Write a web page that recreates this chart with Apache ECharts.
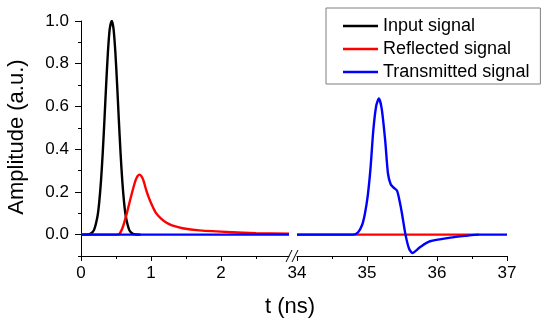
<!DOCTYPE html>
<html>
<head>
<meta charset="utf-8">
<script src="https://cdn.jsdelivr.net/npm/echarts@6/dist/echarts.min.js"></script>
<style>html,body{margin:0;padding:0;background:#fff}#c{width:550px;height:328px}</style>
</head>
<body>
<div id="c"></div>
<script>
// ---- data ----
var seriesNames = ['Input signal', 'Reflected signal', 'Transmitted signal'];
var seriesColors = ['#000000', '#ff0000', '#0000ff'];

var inputTime = [0, 0.085, 0.135, 0.185, 0.235, 0.26, 0.285, 0.31, 0.335, 0.36, 0.385, 0.41, 0.44, 0.465, 0.49, 0.515, 0.54, 0.565, 0.59, 0.615, 0.64, 0.69, 0.74, 0.79, 0.85];
var inputAmp  = [0, 0.0005, 0.004, 0.021, 0.085, 0.151, 0.249, 0.381, 0.539, 0.707, 0.857, 0.962, 1.0, 0.962, 0.857, 0.707, 0.539, 0.381, 0.249, 0.151, 0.085, 0.021, 0.004, 0.0005, 0];

var reflectedTime = [0, 0.5, 0.55, 0.6, 0.65, 0.7, 0.74, 0.78, 0.81, 0.835, 0.86, 0.89, 0.93, 0.97, 1.0, 1.07, 1.14, 1.21, 1.3, 1.45, 1.69, 2.16, 2.5, 2.97];
var reflectedAmp  = [0, 0, 0.004, 0.038, 0.095, 0.16, 0.21, 0.255, 0.275, 0.281, 0.275, 0.255, 0.21, 0.172, 0.148, 0.102, 0.076, 0.058, 0.043, 0.03, 0.02, 0.011, 0.007, 0.004];
var reflectedTimeRight = [34, 36.6];
var reflectedAmpRight  = [0, 0];

var transmittedTime = [0, 2.97];
var transmittedAmp  = [0, 0];
var transmittedTimeRight = [34, 34.8, 34.87, 34.93, 34.97, 35.01, 35.05, 35.09, 35.13, 35.17, 35.21, 35.26, 35.3, 35.34, 35.38, 35.43, 35.47, 35.5, 35.55, 35.6, 35.65, 35.7, 35.76, 35.9, 36.19, 36.4, 36.6, 37];
var transmittedAmpRight  = [0, 0, 0.01, 0.045, 0.098, 0.18, 0.31, 0.488, 0.6, 0.637, 0.59, 0.44, 0.285, 0.235, 0.22, 0.205, 0.15, 0.098, 0, -0.065, -0.086, -0.075, -0.058, -0.031, -0.014, -0.006, 0, 0];

var yMajorTicks = [0, 0.2, 0.4, 0.6, 0.8, 1.0];
var yMinorTicks = [-0.1, 0.1, 0.3, 0.5, 0.7, 0.9];
var xLeftMajor = [0, 1, 2];
var xLeftMinor = [0.5, 1.5, 2.5];
var xRightMajor = [34, 35, 36, 37];
var xRightMinor = [34.5, 35.5, 36.5];

function zip(a, b) { return a.map(function (v, i) { return [v, b[i]]; }); }

var FONT = 'Liberation Sans, Arial, sans-serif';
var LW = 2.4;
var gridTop = 21, gridH = 235;
var leftGrid = {left: 81, top: gridTop, width: 208, height: gridH};
var rightGrid = {left: 297, top: gridTop, width: 210, height: gridH};

function xAxisBase(grid, min, max, major, showLine) {
  return {
    type: 'value', gridIndex: grid, min: min, max: max, interval: 1,
    axisLine: {show: showLine, onZero: false, lineStyle: {color: '#000', width: 1}},
    splitLine: {show: false},
    axisTick: {show: true, customValues: major, length: 5, lineStyle: {color: '#000'}},
    axisLabel: {show: true, customValues: major, margin: 9, fontSize: 17, fontFamily: FONT, color: '#000'}
  };
}
function xAxisMinor(grid, min, max, minor) {
  return {
    type: 'value', gridIndex: grid, min: min, max: max, interval: 0.5,
    axisLine: {show: false, onZero: false},
    splitLine: {show: false},
    axisTick: {show: true, customValues: minor, length: 3, lineStyle: {color: '#000'}},
    axisLabel: {show: false}
  };
}
function lineSeries(nameIdx, xi, data, smooth) {
  return {
    name: seriesNames[nameIdx], type: 'line', xAxisIndex: xi, yAxisIndex: xi, data: data,
    symbol: 'none', showSymbol: false, smooth: smooth,
    lineStyle: {color: seriesColors[nameIdx], width: LW}, itemStyle: {color: seriesColors[nameIdx]}
  };
}

var option = {
  animation: false,
  backgroundColor: '#fff',
  grid: [
    Object.assign({}, leftGrid),
    Object.assign({}, rightGrid),
    Object.assign({}, leftGrid),
    Object.assign({}, rightGrid)
  ],
  xAxis: [
    xAxisBase(0, 0, 2.97, xLeftMajor, true),
    xAxisBase(1, 34, 37, xRightMajor, true),
    xAxisMinor(2, 0, 2.97, xLeftMinor),
    xAxisMinor(3, 34, 37, xRightMinor)
  ],
  yAxis: [
    {
      type: 'value', gridIndex: 0, min: -0.1, max: 1.0, interval: 0.1,
      axisLine: {show: true, onZero: false, lineStyle: {color: '#000', width: 1}},
      splitLine: {show: false},
      axisTick: {show: true, customValues: yMajorTicks, length: 6, lineStyle: {color: '#000'}},
      axisLabel: {show: true, customValues: yMajorTicks, margin: 12, fontSize: 17, fontFamily: FONT, color: '#000',
        formatter: function (v) { return (Math.round(v * 10) / 10).toFixed(1); }}
    },
    {type: 'value', gridIndex: 1, min: -0.1, max: 1.0, interval: 0.1, show: false},
    {
      type: 'value', gridIndex: 2, min: -0.1, max: 1.0, interval: 0.1,
      axisLine: {show: false, onZero: false}, splitLine: {show: false},
      axisTick: {show: true, customValues: yMinorTicks, length: 3, lineStyle: {color: '#000'}},
      axisLabel: {show: false}
    },
    {type: 'value', gridIndex: 3, min: -0.1, max: 1.0, interval: 0.1, show: false}
  ],
  legend: {
    orient: 'vertical', left: 326, top: 8,
    icon: 'rect', itemWidth: 35, itemHeight: 2.4, itemGap: 5,
    padding: [9, 11, 3, 17],
    borderColor: '#7f7f7f', borderWidth: 1, backgroundColor: '#fff',
    selectedMode: false,
    textStyle: {fontSize: 18, fontFamily: FONT, color: '#000', lineHeight: 18},
    data: seriesNames
  },
  series: [
    lineSeries(0, 0, zip(inputTime, inputAmp), 0.25),
    lineSeries(1, 0, zip(reflectedTime, reflectedAmp), 0.3),
    lineSeries(1, 1, zip(reflectedTimeRight, reflectedAmpRight), false),
    lineSeries(2, 0, zip(transmittedTime, transmittedAmp), false),
    lineSeries(2, 1, zip(transmittedTimeRight, transmittedAmpRight), 0.25)
  ],
  graphic: [
    {type: 'text', x: 290, y: 307, style: {text: 't (ns)', font: '22px ' + FONT, fill: '#000', textAlign: 'center', textVerticalAlign: 'middle'}},
    {type: 'text', x: 17, y: 137, rotation: Math.PI / 2, style: {text: 'Amplitude (a.u.)', font: '22px ' + FONT, fill: '#000', textAlign: 'center', textVerticalAlign: 'middle'}},
    {type: 'line', shape: {x1: 286, y1: 262, x2: 292, y2: 250}, style: {stroke: '#000', lineWidth: 1}},
    {type: 'line', shape: {x1: 292, y1: 262, x2: 298, y2: 250}, style: {stroke: '#000', lineWidth: 1}}
  ]
};

var chart = echarts.init(document.getElementById('c'), null, {renderer: 'canvas'});
chart.setOption(option);
</script>
</body>
</html>
